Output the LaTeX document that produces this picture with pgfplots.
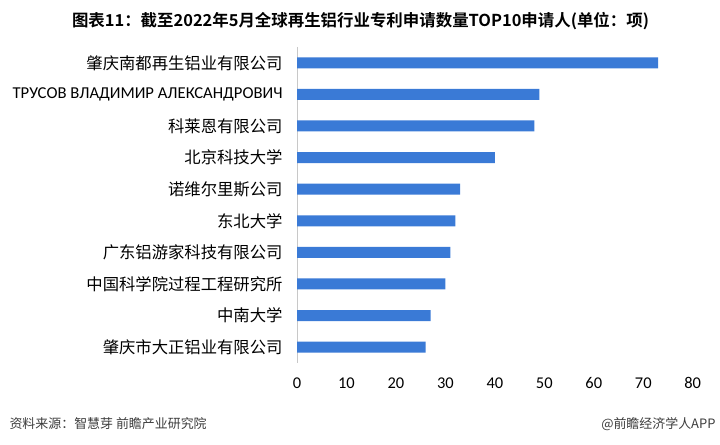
\documentclass[border=0pt]{standalone}
\usepackage{pgfplots}
\pgfplotsset{compat=1.18}
\usepackage{fontspec}
\setmainfont{Noto Sans CJK SC}
\newfontfamily\lat{Carlito}
\newfontfamily\titlefont{Noto Sans CJK SC Bold}
\definecolor{barblue}{RGB}{58,122,214}
\definecolor{axgray}{RGB}{200,200,200}
\definecolor{foot}{RGB}{60,60,60}
\begin{document}
\begin{tikzpicture}[x=1bp,y=1bp]
\useasboundingbox (0,0) rectangle (720,445);
\begin{axis}[
  at={(297bp,82bp)}, anchor=south west,
  scale only axis, width=395.7bp, height=316bp,
  xmin=0, xmax=80, ymin=-0.5, ymax=9.5,
  y dir=reverse,
  axis lines*=left,
  x axis line style={draw=none},
  y axis line style={draw=axgray, line width=0.9pt, -},
  xtick={0,10,...,80},
  ytick={0,...,9},
  yticklabels={肇庆南都再生铝业有限公司,{\lat\fontsize{16.7}{18}\selectfont ТРУСОВ ВЛАДИМИР АЛЕКСАНДРОВИЧ},科莱恩有限公司,北京科技大学,诺维尔里斯公司,东北大学,广东铝游家科技有限公司,中国科学院过程工程研究所,中南大学,肇庆市大正铝业有限公司},
  major tick length=0pt,
  yticklabel style={font=\fontsize{16.4}{18}\selectfont, anchor=east, xshift=-11bp, text=black},
  xticklabel style={font=\lat\fontsize{16.5}{18}\selectfont, yshift=-11bp},
  /pgf/number format/assume math mode=true,
  clip=false,
]
\addplot[xbar, bar width=11bp, fill=barblue, draw=none] coordinates {
(73,0) (49,1) (48,2) (40,3) (33,4) (32,5) (31,6) (30,7) (27,8) (26,9)};
\end{axis}
\node[font=\titlefont\fontsize{16.5}{18}\selectfont] at (360.5,424) {图表11：截至2022年5月全球再生铝行业专利申请数量TOP10申请人(单位：项)};
\node[anchor=west, font=\fontsize{13}{15}\selectfont, text=foot] at (6,21) {资料来源：智慧芽 前瞻产业研究院};
\node[anchor=east, font=\fontsize{13}{15}\selectfont, text=foot] at (719,21) {@前瞻经济学人APP};
\end{tikzpicture}
\end{document}
